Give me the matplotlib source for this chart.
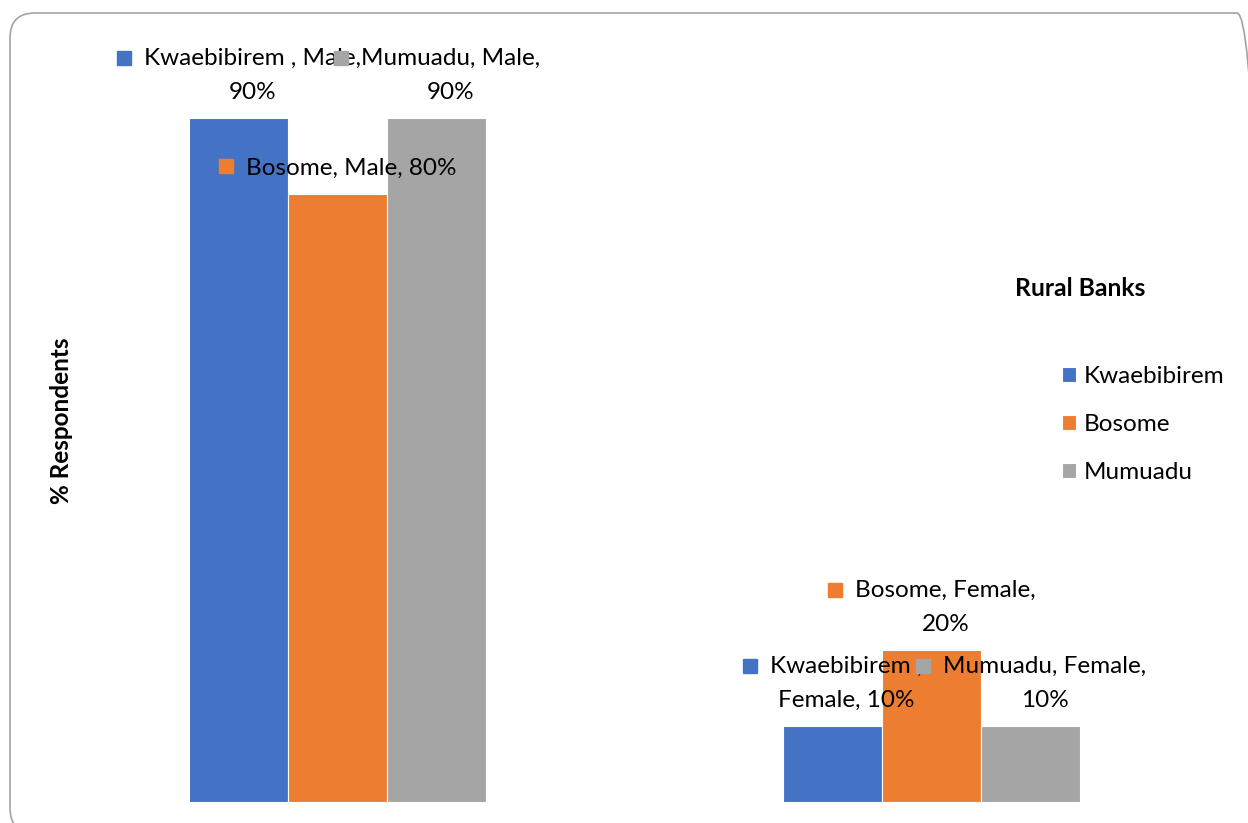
#! /usr/bin/env python
"""Gender of respondents by rural bank, clustered bar chart."""

import matplotlib
matplotlib.use('Agg')
import matplotlib.pyplot as plt
import numpy as np
from matplotlib.patches import FancyBboxPatch, Rectangle
from matplotlib.transforms import IdentityTransform

# Data
categories = ['Male', 'Female']
banks = ['Kwaebibirem ', 'Bosome', 'Mumuadu']
kwaebibirem = [90, 10]
bosome = [80, 20]
mumuadu = [90, 10]
colors = ['#4472C4', '#ED7D31', '#A5A5A5']
# how many label parts sit on the first line (per bank, per category)
first_line_parts = [[2, 1], [3, 2], [2, 2]]

plt.rcParams['font.family'] = ['Lato', 'DejaVu Sans']

W, H = 1248, 823
fig = plt.figure(figsize=(W / 100, H / 100), dpi=100)
ax = fig.add_axes([189 / W, 21 / H, 891 / W, 760 / H])

x = np.arange(len(categories))
width = 1 / 6
series = [kwaebibirem, bosome, mumuadu]

labels = []
for i, (name, vals, col) in enumerate(zip(banks, series, colors)):
    pos = x + (i - 1) * width
    ax.bar(pos, vals, width, color=col, edgecolor='white', linewidth=0.8,
           label=name.strip())
    for j, (p, v) in enumerate(zip(pos, vals)):
        parts = [name + ',', categories[j] + ',', '%d%%' % v]
        k = first_line_parts[i][j]
        if k < len(parts):
            txt = ' '.join(parts[:k]) + '\n' + ' '.join(parts[k:])
        else:
            txt = ' '.join(parts)
        t = ax.annotate(txt, (p, v), xytext=(14, 15),
                        textcoords='offset pixels', ha='center', va='bottom',
                        multialignment='center', fontsize=17.5,
                        linespacing=1.8, color='black', zorder=3)
        labels.append((t, col, txt.count('\n') + 1))

ax.set_xlim(-0.25, 1.25)
ax.set_ylim(0, 100)
for s in ax.spines.values():
    s.set_visible(False)
ax.set_xticks([])
ax.set_yticks([])

fig.text(62 / W, 1 - 421 / H, '% Respondents', rotation=90, ha='center',
         va='center', fontweight='bold', fontsize=17.5)

# Legend
fig.text(1080 / W, 1 - 289 / H, 'Rural Banks', ha='center', va='center',
         fontweight='bold', fontsize=17.8)
handles, names = ax.get_legend_handles_labels()
fig.legend(handles, names, loc='upper left',
           bbox_to_anchor=(1062 / W, (H - 366) / H), frameon=False,
           fontsize=17.5, handlelength=0.58, handleheight=0.58,
           handletextpad=0.33, labelspacing=1.12, borderpad=0,
           borderaxespad=0)

# legend keys next to each data label
fig.canvas.draw()
renderer = fig.canvas.get_renderer()
for t, col, nlines in labels:
    bb = t.get_window_extent(renderer)
    lh = bb.height / nlines
    yc = bb.y1 - lh / 2 + 3
    fig.add_artist(Rectangle((bb.x0 - 27, yc - 7), 14, 14, color=col,
                             transform=IdentityTransform(), zorder=4))

# rounded chart border
fig.add_artist(FancyBboxPatch((10, -10), 1252, 820,
                              boxstyle='round,pad=0,rounding_size=25',
                              transform=IdentityTransform(), fill=False,
                              edgecolor='#A3A3A3', linewidth=1.2))

fig.savefig('out.png', dpi=100)
